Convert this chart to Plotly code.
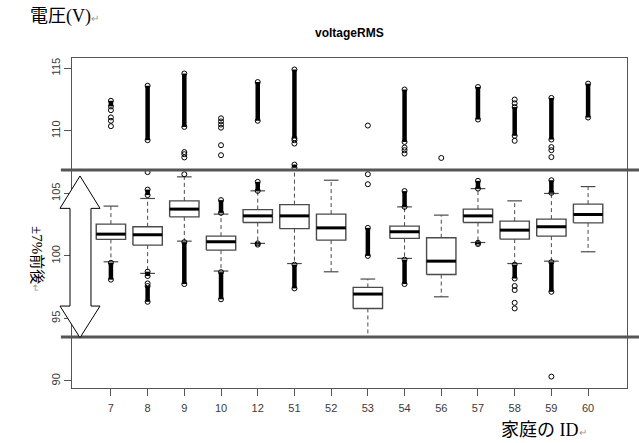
import plotly.graph_objects as go

# ---- data ----
house_ids = ["7", "8", "9", "10", "12", "51", "52", "53", "54", "56", "57", "58", "59", "60"]
lower_whisker = [99.53, 98.60, 101.18, 98.79, 101.00, 99.39, 98.73, 93.55, 99.80, 96.73, 101.07, 99.39, 99.58, 100.33]
q1_vals = [101.32, 100.86, 103.12, 100.46, 102.67, 102.18, 101.26, 95.80, 101.40, 98.51, 102.67, 101.34, 101.58, 102.64]
median_vals = [101.74, 101.69, 103.74, 101.13, 103.20, 103.20, 102.24, 96.95, 101.93, 99.58, 103.20, 102.06, 102.33, 103.31]
q3_vals = [102.54, 102.33, 104.40, 101.58, 103.70, 104.10, 103.34, 97.48, 102.38, 101.45, 103.74, 102.78, 102.94, 104.14]
upper_whisker = [103.98, 104.59, 106.32, 103.34, 105.20, 106.90, 106.05, 98.15, 103.92, 103.26, 105.38, 104.40, 104.99, 105.54]

# dense runs of outliers (low, high) per house
outlier_runs = [
    [(98.10, 99.45), (111.95, 112.40)],
    [(104.86, 105.30), (98.39, 98.74), (96.33, 97.59), (109.25, 113.60)],
    [(97.75, 101.10), (110.31, 114.58)],
    [(103.44, 104.46), (96.53, 98.70)],
    [(105.20, 105.92), (110.80, 113.90), (100.90, 101.00)],
    [(97.40, 99.30), (109.40, 114.90), (107.05, 107.30)],
    [],
    [(100.00, 102.24)],
    [(103.92, 105.18), (97.75, 99.70), (109.11, 113.30)],
    [],
    [(105.38, 106.00), (110.90, 113.50), (100.95, 101.05)],
    [(98.19, 99.30), (109.60, 111.90)],
    [(105.04, 106.05), (97.13, 99.50), (109.30, 112.63)],
    [(111.06, 113.77)],
]
# isolated outliers per house
outlier_points = [
    [111.65, 111.07, 110.80, 110.37],
    [106.70, 97.80],
    [108.30, 108.13, 107.87, 106.53],
    [111.00, 110.75, 110.50, 110.25, 108.85, 108.05],
    [],
    [108.98, 109.25],
    [],
    [106.53, 105.73, 110.42],
    [108.66, 108.45, 108.18],
    [107.83],
    [],
    [97.59, 97.27, 96.25, 95.80, 112.50, 112.20, 109.20],
    [108.70, 108.45, 107.90, 90.35],
    [],
]
band_upper = 106.87   # +7 % line
band_lower = 93.52    # -7 % line

# ---- build marks ----
positions = list(range(1, len(house_ids) + 1))
HALF = 0.4
CAP = 0.2

bx, by, mx, my, wx, wy, cx, cy = [], [], [], [], [], [], [], []
for p, lw, a, m, b, uw in zip(positions, lower_whisker, q1_vals, median_vals, q3_vals, upper_whisker):
    bx += [p - HALF, p + HALF, p + HALF, p - HALF, p - HALF, None]
    by += [a, a, b, b, a, None]
    mx += [p - HALF, p + HALF, None]
    my += [m, m, None]
    wx += [p, p, None, p, p, None]
    wy += [b, uw, None, a, lw, None]
    cx += [p - CAP, p + CAP, None, p - CAP, p + CAP, None]
    cy += [uw, uw, None, lw, lw, None]

rx, ry, ox, oy = [], [], [], []
for p, runs, pts in zip(positions, outlier_runs, outlier_points):
    for lo, hi in runs:
        rx += [p, p, None]
        ry += [lo, hi, None]
        ox += [p, p]
        oy += [lo, hi]
    for v in pts:
        ox.append(p)
        oy.append(v)

BOXC = "#4a4a4a"
fig = go.Figure()
fig.add_trace(go.Scatter(x=wx, y=wy, mode="lines", line=dict(color=BOXC, width=1, dash="4px,3px"), hoverinfo="skip"))
fig.add_trace(go.Scatter(x=cx, y=cy, mode="lines", line=dict(color=BOXC, width=1.2), hoverinfo="skip"))
fig.add_trace(go.Scatter(x=bx, y=by, mode="lines", line=dict(color=BOXC, width=1.4), hoverinfo="skip"))
fig.add_trace(go.Scatter(x=mx, y=my, mode="lines", line=dict(color="black", width=3), hoverinfo="skip"))
fig.add_trace(go.Scatter(x=rx, y=ry, mode="lines", line=dict(color="black", width=4.5), hoverinfo="skip"))
fig.add_trace(go.Scatter(x=ox, y=oy, mode="markers",
                         marker=dict(symbol="circle-open", size=5, color="black", line=dict(width=1)),
                         hoverinfo="skip"))

# reference lines (extend past the plot frame)
for yv in (band_upper, band_lower):
    fig.add_shape(type="line", xref="paper", yref="y", x0=-0.02, x1=1.03, y0=yv, y1=yv,
                  line=dict(color="#555555", width=3), layer="above")

# double-headed arrow
tip_x, head_l, head_r, sh_l, sh_r = 0.0144, -0.0216, 0.0505, -0.0036, 0.0342
tip_top, base_top, base_bot, tip_bot = 106.39, 103.80, 95.99, 93.46
path = (f"M {tip_x},{tip_top} L {head_r},{base_top} L {sh_r},{base_top} L {sh_r},{base_bot} "
        f"L {head_r},{base_bot} L {tip_x},{tip_bot} L {head_l},{base_bot} L {sh_l},{base_bot} "
        f"L {sh_l},{base_top} L {head_l},{base_top} Z")
fig.add_shape(type="path", xref="paper", yref="y", path=path,
              fillcolor="white", line=dict(color="black", width=1), layer="above")

RET = "<span style='font-size:10px;color:#999'>↵</span>"
SERIF = "Liberation Serif, Noto Sans CJK JP, serif"
fig.add_annotation(text="<b>voltageRMS</b>", xref="paper", yref="paper", x=0.5, y=1.076,
                   showarrow=False, font=dict(family="Liberation Sans, Arial", size=12, color="black"),
                   xanchor="center", yanchor="middle")
fig.add_annotation(text="電圧(V)" + RET, xref="paper", yref="paper", x=-0.0793, y=1.127,
                   showarrow=False, font=dict(family=SERIF, size=18, color="black"),
                   xanchor="left", yanchor="middle")
fig.add_annotation(text="家庭の ID" + RET, xref="paper", yref="paper", x=0.769, y=-0.127,
                   showarrow=False, font=dict(family=SERIF, size=18, color="black"),
                   xanchor="left", yanchor="middle")
fig.add_annotation(text="±7%前後" + RET, xref="paper", yref="paper", x=-0.063, y=0.391,
                   showarrow=False, textangle=90, font=dict(family=SERIF, size=15, color="black"),
                   xanchor="center", yanchor="middle")

AX = dict(showline=True, mirror=True, linecolor="#555555", linewidth=1.2, showgrid=False,
          zeroline=False, ticks="outside", ticklen=7, tickcolor="#555555", tickwidth=1,
          tickfont=dict(family="Liberation Sans, Arial", size=11, color="#3a3a3a"))
fig.update_xaxes(range=[-0.06, 15.06], tickmode="array", tickvals=positions, ticktext=house_ids,
                 ticklabelstandoff=3, **AX)
fig.update_yaxes(range=[89.44, 115.82], tickmode="array", tickvals=[90, 95, 100, 105, 110, 115],
                 tickangle=-90, **AX)

fig.update_layout(width=639, height=443, showlegend=False,
                  margin=dict(l=72, r=12, t=58, b=55),
                  paper_bgcolor="white", plot_bgcolor="white")
fig.write_html("out.html", config={"displayModeBar": False},
               post_script="document.body.style.margin='0';document.body.style.padding='0';")
